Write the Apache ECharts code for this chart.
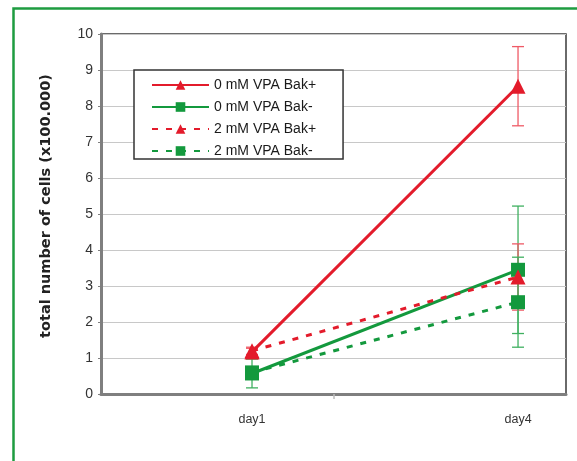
<!DOCTYPE html>
<html>
<head>
<meta charset="utf-8">
<script src="https://cdn.jsdelivr.net/npm/echarts@6/dist/echarts.min.js"></script>
<style>html,body{margin:0;padding:0;background:#fff;}#c{width:577px;height:461px;}</style>
</head>
<body>
<div id="c"></div>
<script>
var categories = ['day1', 'day4'];
var dayNumbers = [1, 4];
var yTicks = [0, 1, 2, 3, 4, 5, 6, 7, 8, 9, 10];
var seriesNames = ['0 mM VPA Bak+', '0 mM VPA Bak-', '2 mM VPA Bak+', '2 mM VPA Bak-'];
var vpa0BakPlus = [1.17, 8.55];
var vpa0BakMinus = [0.57, 3.45];
var vpa2BakPlus = [1.2, 3.25];
var vpa2BakMinus = [0.6, 2.55];
var err0BakPlus = [0.1, 1.1];
var err0BakMinus = [0.4, 1.77];
var err2BakPlus = [0.1, 0.92];
var err2BakMinus = [0.1, 1.25];

var RED = '#e31b2b', GREEN = '#13993d';
var RED_ERR = '#ef5a66', GREEN_ERR = '#3fb060';
var XMIN = -0.703, XMAX = 4.541;

function pts(vals) { return vals.map(function (v, i) { return [dayNumbers[i], v]; }); }
function errData(vals, errs) { return vals.map(function (v, i) { return [dayNumbers[i], v - errs[i], v + errs[i]]; }); }

function errSeries(vals, errs, color) {
  return {
    type: 'custom', silent: true, z: 1,
    data: errData(vals, errs),
    renderItem: function (params, api) {
      var x = api.value(0), lo = api.value(1), hi = api.value(2);
      var pLo = api.coord([x, lo]), pHi = api.coord([x, hi]);
      var w = 6;
      var st = { stroke: color, lineWidth: 1.3 };
      return { type: 'group', children: [
        { type: 'line', shape: { x1: pLo[0], y1: pLo[1], x2: pHi[0], y2: pHi[1] }, style: st },
        { type: 'line', shape: { x1: pLo[0] - w, y1: pLo[1], x2: pLo[0] + w, y2: pLo[1] }, style: st },
        { type: 'line', shape: { x1: pHi[0] - w, y1: pHi[1], x2: pHi[0] + w, y2: pHi[1] }, style: st }
      ]};
    }
  };
}

function lineSeries(name, vals, color, symbol, dashed) {
  return {
    name: name, type: 'line', data: pts(vals), z: 3,
    symbol: symbol, symbolSize: symbol === 'triangle' ? 15 : 14,
    lineStyle: { color: color, width: 3, type: dashed ? [6, 8] : 'solid' },
    itemStyle: { color: color },
    emphasis: { disabled: true }
  };
}

var chart = echarts.init(document.getElementById('c'), null, { renderer: 'canvas' });
chart.setOption({
  animation: false,
  backgroundColor: '#fff',
  graphic: [{
    type: 'rect', left: 11, top: 6, z: -10, silent: true,
    shape: { x: 0, y: 0, width: 700, height: 600 },
    style: { fill: 'none', stroke: '#1e9c40', lineWidth: 2.5 }
  }],
  grid: { left: 101, right: 11, top: 34, bottom: 67, show: true, borderColor: '#3a3a3a', borderWidth: 1.5, backgroundColor: 'transparent' },
  legend: {
    orient: 'vertical', left: 134, top: 70,
    data: seriesNames,
    itemWidth: 57, itemHeight: 12, itemGap: 8,
    padding: [8, 27, 1, 17],
    borderColor: '#333', borderWidth: 1.5, backgroundColor: '#fff',
    textStyle: { fontFamily: 'Liberation Sans, Arial', fontSize: 14, color: '#1a1a1a' }
  },
  xAxis: {
    type: 'value', min: XMIN, max: XMAX,
    splitLine: { show: false },
    axisLine: { show: true, onZero: false, lineStyle: { color: '#7f7f7f', width: 3 } },
    axisTick: { show: true, customValues: [(XMIN + XMAX) / 2], length: 5, lineStyle: { color: '#bbb', width: 1.5 } },
    axisLabel: {
      customValues: dayNumbers,
      formatter: function (v) { var i = dayNumbers.indexOf(v); return i >= 0 ? categories[i] : ''; },
      margin: 19, fontFamily: 'Liberation Sans, Arial', fontSize: 12.5, color: '#333'
    }
  },
  yAxis: {
    type: 'value', min: yTicks[0], max: yTicks[yTicks.length - 1], interval: 1,
    name: 'total number of cells (x100.000)',
    nameLocation: 'middle', nameGap: 47, nameRotate: 90,
    nameTextStyle: { fontFamily: 'DejaVu Sans', fontSize: 14.5, fontWeight: 'bold', color: '#222', padding: [0, 0, 0, 16] },
    axisLine: { show: true, onZero: false, lineStyle: { color: '#7f7f7f', width: 3 } },
    axisTick: { show: true, length: 3, lineStyle: { color: '#7f7f7f' } },
    splitLine: { lineStyle: { color: '#c8c8c8', width: 1 } },
    axisLabel: { margin: 8, fontFamily: 'Liberation Sans, Arial', fontSize: 14, color: '#333' }
  },
  series: [
    errSeries(vpa0BakPlus, err0BakPlus, RED_ERR),
    errSeries(vpa0BakMinus, err0BakMinus, GREEN_ERR),
    errSeries(vpa2BakPlus, err2BakPlus, RED_ERR),
    errSeries(vpa2BakMinus, err2BakMinus, GREEN_ERR),
    lineSeries(seriesNames[0], vpa0BakPlus, RED, 'triangle', false),
    lineSeries(seriesNames[1], vpa0BakMinus, GREEN, 'rect', false),
    lineSeries(seriesNames[2], vpa2BakPlus, RED, 'triangle', true),
    lineSeries(seriesNames[3], vpa2BakMinus, GREEN, 'rect', true)
  ]
});
</script>
</body>
</html>
